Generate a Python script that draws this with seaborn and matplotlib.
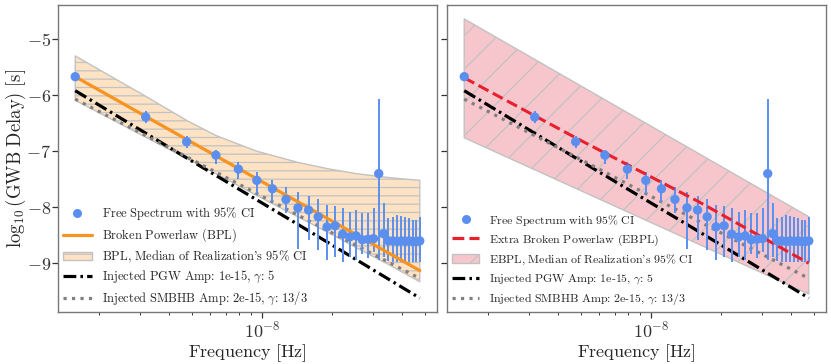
import numpy as np
import pandas as pd
import matplotlib
matplotlib.use("Agg")
import matplotlib.pyplot as plt
from matplotlib.lines import Line2D
from matplotlib.patches import Patch
from matplotlib.ticker import FuncFormatter
import seaborn as sns

# ---------------- data ----------------
freq_nhz = [1.58, 3.17, 4.75, 6.34, 7.92, 9.50, 11.09, 12.67, 14.26, 15.84,
            17.42, 19.01, 20.59, 22.18, 23.76, 25.34, 26.93, 28.51, 30.10, 31.68,
            33.26, 34.85, 36.43, 38.02, 39.60, 41.18, 42.77, 44.35, 45.94, 47.52]
fs_median = [-5.67, -6.39, -6.83, -7.07, -7.32, -7.52, -7.67, -7.86, -8.01, -8.05,
             -8.17, -8.35, -8.33, -8.48, -8.53, -8.51, -8.58, -8.57, -8.56, -7.40,
             -8.47, -8.60, -8.60, -8.61, -8.60, -8.61, -8.60, -8.61, -8.61, -8.60]
fs_low = [-5.72, -6.49, -6.95, -7.22, -7.49, -7.76, -7.90, -8.10, -8.74, -8.59,
          -8.77, -8.95, -8.88, -8.98, -8.89, -8.95, -8.83, -8.90, -8.80, -8.95,
          -8.89, -8.96, -8.97, -8.98, -8.97, -8.98, -8.97, -8.98, -8.98, -8.98]
fs_high = [-5.62, -6.29, -6.72, -6.98, -7.19, -7.37, -7.52, -7.63, -7.73, -7.80,
           -7.85, -7.96, -7.98, -8.02, -8.08, -8.05, -8.10, -8.10, -8.01, -6.06,
           -7.92, -8.20, -8.18, -8.14, -8.16, -8.18, -8.20, -8.22, -8.22, -8.18]

# model curves, sampled at a few frequencies (nHz)
line_freq = [1.58, 4.75, 15.84, 47.52]
bpl_vals = [-5.67, -6.79, -8.01, -9.13]
ebpl_vals = [-5.69, -6.76, -7.89, -9.00]
pgw_vals = [-5.92, -7.12, -8.42, -9.62]
smbhb_vals = [-6.07, -7.10, -8.24, -9.27]

# band edges
band_freq = [1.58, 3.17, 4.75, 6.34, 9.50, 14.26, 19.01, 25.34, 34.85, 47.52]
bpl_top = [-5.30, -6.02, -6.45, -6.72, -7.00, -7.20, -7.31, -7.40, -7.47, -7.52]
bpl_bot = [-6.09, -6.75, -7.13, -7.40, -7.79, -8.17, -8.44, -8.72, -9.02, -9.33]
ebpl_band_freq = [1.58, 47.52]
ebpl_top = [-4.64, -8.17]
ebpl_bot = [-6.76, -9.55]

# texts
lbl_fs = "Free Spectrum with 95% CI"
lbl_bpl = "Broken Powerlaw (BPL)"
lbl_bpl_band = "BPL, Median of Realization's 95% CI"
lbl_ebpl = "Extra Broken Powerlaw (EBPL)"
lbl_ebpl_band = "EBPL, Median of Realization's 95% CI"
lbl_pgw = "Injected PGW Amp: 1e-15, <g>: 5"
lbl_smbhb = "Injected SMBHB Amp: 2e-15, <g>: 13/3"
xlabel = "Frequency [Hz]"


def tex(s):
    """Turn plain text into mathtext using Computer Modern text glyphs."""
    parts = []
    for word in s.split(" "):
        if word.startswith("<g>"):
            parts.append(r"\gamma\text{%s}" % word[3:])
        else:
            parts.append(r"\text{%s}" % word)
    return "$" + r"\ ".join(parts) + "$"


# ---------------- style ----------------
sns.set_style("ticks")
plt.rcParams["font.family"] = ["cmr10", "DejaVu Serif"]
plt.rcParams["mathtext.fontset"] = "cm"
plt.rcParams["axes.formatter.use_mathtext"] = True
plt.rcParams["axes.edgecolor"] = "#777777"
plt.rcParams["axes.linewidth"] = 1.0
plt.rcParams["hatch.linewidth"] = 0.9
plt.rcParams["xtick.color"] = "#333333"
plt.rcParams["ytick.color"] = "#333333"

fig = plt.figure(figsize=(8.31, 3.64), dpi=100)
ax1 = fig.add_axes([58 / 831, 52 / 364, (437 - 58) / 831, 307 / 364])
ax2 = fig.add_axes([447 / 831, 52 / 364, (826 - 447) / 831, 307 / 364], sharey=ax1)

f = np.array(freq_nhz) * 1e-9
lf = np.array(line_freq) * 1e-9
med = np.array(fs_median)
lo = np.array(fs_low)
hi = np.array(fs_high)

PT_COLOR = "#5B8FEF"
ORANGE = "#F7931E"
RED = "#E8202E"
LEFT_FILL = "#FDE3C4"
RIGHT_FILL = "#F7C6CC"
HATCH_EDGE = "#C2C2C2"
DASHDOT = (4.0, 1.3, 0.8, 1.3)


def draw_common(ax):
    ax.set_xscale("log")
    ax.errorbar(f, med, yerr=[med - lo, hi - med], fmt="none", ecolor=PT_COLOR,
                elinewidth=1.4, capsize=0, zorder=4)
    sns.scatterplot(x=f, y=med, ax=ax, color=PT_COLOR, s=45, edgecolor="none",
                    zorder=5, legend=False)
    sns.lineplot(x=lf, y=pgw_vals, ax=ax, color="black", lw=2.3,
                 dashes=DASHDOT, zorder=3, legend=False)
    sns.lineplot(x=lf, y=smbhb_vals, ax=ax, color="gray", lw=2.3,
                 linestyle=":", zorder=3, legend=False)


# left panel
bf = np.array(band_freq) * 1e-9
ax1.fill_between(bf, bpl_bot, bpl_top, facecolor=LEFT_FILL, edgecolor=HATCH_EDGE,
                 hatch="--", linewidth=1.0, zorder=1)
draw_common(ax1)
sns.lineplot(x=lf, y=bpl_vals, ax=ax1, color=ORANGE, lw=2.3, zorder=4.5, legend=False)

# right panel
ebf = np.array(ebpl_band_freq) * 1e-9
ax2.fill_between(ebf, ebpl_bot, ebpl_top, facecolor=RIGHT_FILL, edgecolor=HATCH_EDGE,
                 hatch="/", linewidth=1.0, zorder=1)
draw_common(ax2)
sns.lineplot(x=lf, y=ebpl_vals, ax=ax2, color=RED, lw=2.2, linestyle="--",
             zorder=4.5, legend=False)

ax1.set_yticks([-5, -6, -7, -8, -9])
ax1.yaxis.set_major_formatter(FuncFormatter(lambda v, p: r"$%d$" % int(round(v))))
plt.setp(ax2.get_yticklabels(), visible=False)

for ax in (ax1, ax2):
    ax.set_xlabel(tex(xlabel), fontsize=13)
    ax.xaxis.set_label_coords(0.5, -0.098)
    ax.tick_params(axis="both", which="major", labelsize=13, length=4, width=0.9)
    ax.tick_params(axis="x", which="major", pad=1.5)
    ax.tick_params(axis="y", which="major", pad=1)
    ax.tick_params(axis="x", which="minor", length=2.5, width=0.7)
ax1.set_ylabel(r"$\log_{10}\text{(GWB}\ \text{Delay)}\ \text{[s]}$", fontsize=13.5)
ax1.yaxis.set_label_coords(-0.080, 0.5)
ax2.set_ylabel("")


def legend_handles(model_label, model_color, model_ls, band_label, band_fill, band_hatch):
    return [
        Line2D([], [], marker="o", color=PT_COLOR, linestyle="none", markersize=6.5,
               markeredgecolor="none", label=tex(lbl_fs)),
        Line2D([], [], color=model_color, lw=2.3, linestyle=model_ls, label=tex(model_label)),
        Patch(facecolor=band_fill, edgecolor=HATCH_EDGE, hatch=band_hatch, label=tex(band_label)),
        Line2D([], [], color="black", lw=2.3, dashes=DASHDOT, label=tex(lbl_pgw)),
        Line2D([], [], color="gray", lw=2.3, linestyle=":", label=tex(lbl_smbhb)),
    ]


leg_kw = dict(loc="lower left", frameon=False, borderpad=0.3,
              borderaxespad=0.1, handlelength=2.3, handletextpad=0.85)
ax1.legend(handles=legend_handles(lbl_bpl, ORANGE, "-", lbl_bpl_band, LEFT_FILL, "--"),
           fontsize=9.0, labelspacing=0.35, **leg_kw)
ax2.legend(handles=legend_handles(lbl_ebpl, RED, "--", lbl_ebpl_band, RIGHT_FILL, "/"),
           fontsize=8.6, labelspacing=0.4, **leg_kw)

fig.savefig("out.png", dpi=100)
